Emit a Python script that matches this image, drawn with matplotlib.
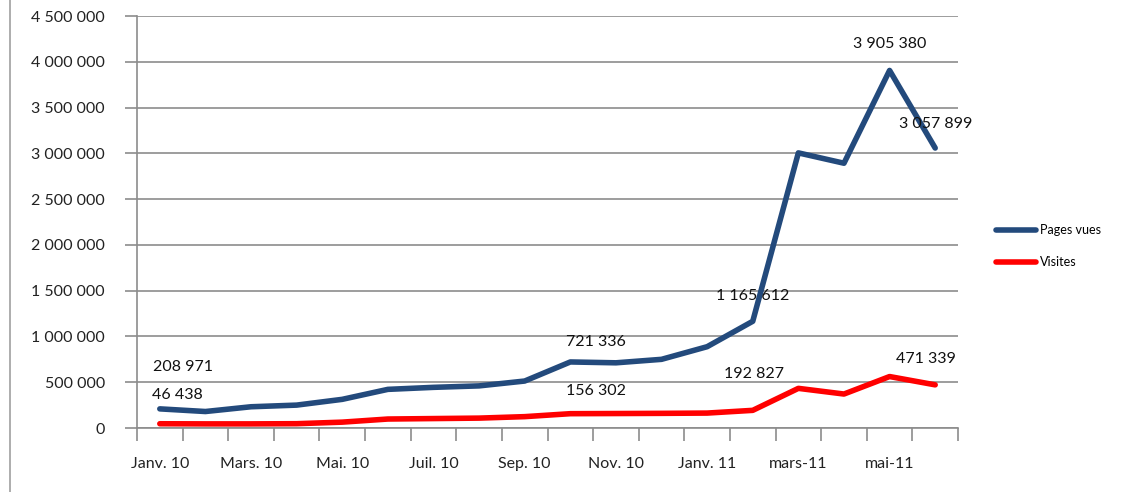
import matplotlib
matplotlib.use('Agg')
import matplotlib.pyplot as plt
from matplotlib.lines import Line2D
from matplotlib.ticker import FuncFormatter, MultipleLocator, FixedLocator
import numpy as np

plt.rcParams['font.family'] = ['Lato', 'DejaVu Sans']

# months Janv. 10 .. Juin 11
months = ['Janv. 10', 'Févr. 10', 'Mars. 10', 'Avr. 10', 'Mai. 10', 'Juin. 10',
          'Juil. 10', 'Août. 10', 'Sep. 10', 'Oct. 10', 'Nov. 10', 'Déc. 10',
          'Janv. 11', 'févr-11', 'mars-11', 'avr-11', 'mai-11', 'juin-11']
pages_vues = [208971, 180000, 232000, 250000, 313000, 422000, 444000, 460000, 513000,
              721336, 712000, 750000, 888000, 1165612, 3005000, 2892000, 3905380, 3057899]
visites = [46438, 45000, 45000, 47000, 64000, 98000, 103000, 108000, 124000,
           156302, 158000, 160000, 163000, 192827, 433000, 371000, 562000, 471339]

# which points carry a label, and pixel offset of the label
pv_labels = {0: (23, 42), 9: (26, 20), 13: (0, 25), 16: (0, 26), 17: (0, 24)}
vi_labels = {0: (18, 29), 9: (26, 23), 13: (1, 36), 17: (-9, 26)}

blue = '#234a7c'
red = '#ff0000'
grid = '#8c8c8c'

fig = plt.figure(figsize=(11.3, 4.92), dpi=100)
ax = fig.add_axes([137/1130, 1 - 428/492, 821/1130, 412/492])

x = np.arange(len(months))
ax.plot(x, pages_vues, color=blue, lw=4, solid_joinstyle='round', solid_capstyle='round',
        label='Pages vues', zorder=3)
ax.plot(x, visites, color=red, lw=4, solid_joinstyle='round', solid_capstyle='round',
        label='Visites', zorder=3)

def fmt(v):
    return f'{int(v):,}'.replace(',', ' ')

for i, (dx, dy) in pv_labels.items():
    ax.annotate(fmt(pages_vues[i]), (x[i], pages_vues[i]), xytext=(dx, dy),
                textcoords='offset pixels', ha='center', va='center', fontsize=11.5,
                color='#111111', zorder=4)
for i, (dx, dy) in vi_labels.items():
    ax.annotate(fmt(visites[i]), (x[i], visites[i]), xytext=(dx, dy),
                textcoords='offset pixels', ha='center', va='center', fontsize=11.5,
                color='#111111', zorder=4)

ax.set_xlim(-0.5, len(months) - 0.5)
ax.set_ylim(0, 4500000)
ax.yaxis.set_major_locator(MultipleLocator(500000))
ax.yaxis.set_major_formatter(FuncFormatter(lambda v, p: fmt(v)))
ax.grid(axis='y', color=grid, lw=1.2)
ax.set_axisbelow(True)

# labels every two months at category centres, tick marks between categories
ax.xaxis.set_major_locator(FixedLocator(x[::2]))
ax.set_xticklabels(months[::2])
ax.xaxis.set_minor_locator(FixedLocator(np.arange(-0.5, len(months), 1)))
ax.tick_params(axis='x', which='major', length=0, pad=21, labelsize=11.5, labelcolor='#222222')
ax.tick_params(axis='x', which='minor', length=9, width=1.2, color=grid, direction='out')
ax.tick_params(axis='y', length=9, width=1.2, color=grid, pad=14, labelsize=11.5,
               labelcolor='#222222')

for s in ['top', 'right']:
    ax.spines[s].set_visible(False)
ax.spines['left'].set_color(grid)
ax.spines['left'].set_linewidth(1.2)
ax.spines['bottom'].set_color(grid)
ax.spines['bottom'].set_linewidth(1.2)

leg = fig.legend(loc='center left', bbox_to_anchor=(985/1130, 1 - 246/492), frameon=False,
                 fontsize=9, handlelength=3.2, handletextpad=0.3, labelspacing=1.6)

# chart area border on the left
fig.add_artist(Line2D([10/1130, 10/1130], [0, 1], color='#a0a0a0', lw=1.2))

fig.savefig('out.png', dpi=100)
